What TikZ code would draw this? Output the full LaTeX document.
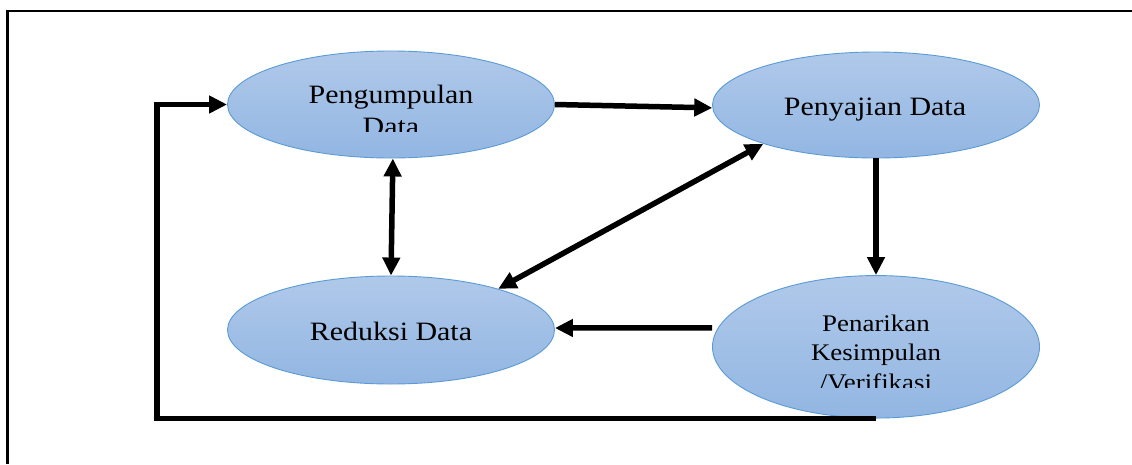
\documentclass[tikz,border=0pt]{standalone}
\usepackage{fontspec}
\setmainfont{Liberation Serif}[FakeStretch=1.13]
\usetikzlibrary{arrows.meta,calc,shapes.geometric}
\definecolor{eltop}{RGB}{176,201,234}
\definecolor{elbot}{RGB}{146,182,226}
\definecolor{eledge}{RGB}{91,155,213}
\tikzset{
  proc/.style={ellipse, draw=eledge, line width=0.9pt, top color=eltop, bottom color=elbot, inner sep=0pt, minimum width=327pt},
  lbl/.style={font=\fontsize{26.5}{31.7}\selectfont, align=center, inner sep=0pt, anchor=base},
  small/.style={font=\fontsize{23.8}{29.5}\selectfont},
  flow/.style={line width=5.5pt, -{Triangle[length=18pt,width=17pt]}},
  both/.style={line width=5.5pt, {Triangle[length=18pt,width=17pt]}-{Triangle[length=18pt,width=17pt]}},
  frame/.style={line width=2.5pt}
}
\begin{document}
\begin{tikzpicture}[x=1pt,y=-1pt]
\useasboundingbox (0,0) rectangle (1132,464);
\fill[white] (0,0) rectangle (1132,464);
\draw[frame] (7.5,464) -- (7.5,11) -- (1132,11);
\node[proc, minimum height=107pt] (p) at (391,104.5) {};
\node[proc, minimum height=106pt] (s) at (876,105) {};
\node[proc, minimum height=108pt] (r) at (391,330) {};
\node[proc, minimum height=142.5pt] (t) at (876,346.8) {};
\begin{scope}
  \clip (200,40) rectangle (600,131.7);
  \node[lbl] (pt) at (391,135) {Pengumpulan\\Data};
\end{scope}
\node[lbl] (st) at (875,115) {Penyajian Data};
\node[lbl] (rt) at (391,340) {Reduksi Data};
\begin{scope}
  \clip (700,280) rectangle (1050,387.7);
  \node[lbl, small] (tt) at (876,390) {Penarikan\\Kesimpulan\\/Verifikasi};
\end{scope}
\draw[flow] (p.east) -- (s.181);
\draw[both] (p.272) -- (r.north);
\draw[both] (r.21) -- (s.199);
\draw[flow] (s.south) -- (t.north);
\draw[flow] ($(t.west)+(0,-19)$) -- ($(r.east)+(0,-2)$);
\coordinate (fb) at (157,417.5);
\draw[flow, line join=miter] (t.south) -- (t.south -| fb) -- (fb) |- (p.west);
\end{tikzpicture}
\end{document}
